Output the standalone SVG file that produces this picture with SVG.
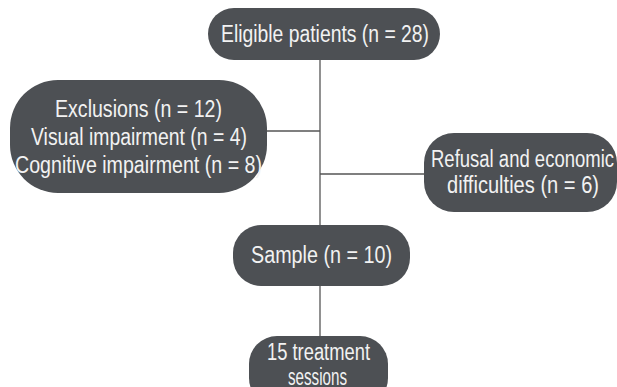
<svg xmlns="http://www.w3.org/2000/svg" width="617" height="387" viewBox="0 0 617 387">
<style>
.n{fill:#4d5054}
.t{font-family:"Liberation Sans Narrow","Liberation Sans",Arial,sans-serif;font-size:23px;fill:#f2f2f2}
.c{stroke:#555;stroke-width:1.3;fill:none}
</style>
<rect width="617" height="387" fill="#fff"/>
<g id="connectors">
<path class="c" d="M320 60V226"/>
<path class="c" d="M267 131H320"/>
<path class="c" d="M320 174H424"/>
<path class="c" d="M320 286V337"/>
</g>
<g id="eligible">
<rect class="n" x="208" y="8" width="232" height="52" rx="26"/>
<text class="t" x="221" y="42" textLength="208" lengthAdjust="spacingAndGlyphs">Eligible patients (n = 28)</text>
</g>
<g id="exclusions">
<rect class="n" x="10" y="80" width="257" height="113" rx="48"/>
<text class="t" x="55" y="117" textLength="167" lengthAdjust="spacingAndGlyphs">Exclusions (n = 12)</text>
<text class="t" x="31" y="145" textLength="216" lengthAdjust="spacingAndGlyphs">Visual impairment (n = 4)</text>
<text class="t" x="15" y="173" textLength="247" lengthAdjust="spacingAndGlyphs">Cognitive impairment (n = 8)</text>
</g>
<g id="refusal">
<rect class="n" x="424" y="133" width="193" height="79" rx="30"/>
<text class="t" x="431" y="167" textLength="183" lengthAdjust="spacingAndGlyphs">Refusal and economic</text>
<text class="t" x="447" y="193" textLength="152" lengthAdjust="spacingAndGlyphs">difficulties (n = 6)</text>
</g>
<g id="sample">
<rect class="n" x="233" y="225" width="177" height="61" rx="28"/>
<text class="t" x="251" y="263" textLength="141" lengthAdjust="spacingAndGlyphs">Sample (n = 10)</text>
</g>
<g id="treatment">
<rect class="n" x="249" y="336" width="139" height="70" rx="28"/>
<text class="t" x="267" y="360" textLength="103" lengthAdjust="spacingAndGlyphs">15 treatment</text>
<text class="t" x="288" y="385" textLength="59" lengthAdjust="spacingAndGlyphs">sessions</text>
</g>
</svg>
